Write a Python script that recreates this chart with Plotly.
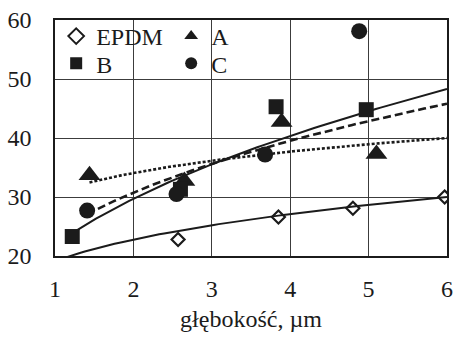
import numpy as np
import plotly.graph_objects as go

# ---- data ----
epdm_x = [2.57, 3.85, 4.80, 5.97]
epdm_y = [22.8, 26.6, 28.1, 30.0]
a_x = [1.44, 2.65, 3.89, 5.10]
a_y = [33.7, 32.7, 42.7, 37.3]
b_x = [1.22, 2.60, 3.82, 4.97]
b_y = [23.3, 31.3, 45.3, 44.8]
c_x = [1.41, 2.55, 3.68, 4.88]
c_y = [27.7, 30.5, 37.2, 58.1]

# power trend lines y = k * x^p  (coefficients), start x, end x
trend_epdm = (19.15, 0.2506, 1.0, 6.0)
trend_a = (30.79, 0.146, 1.44, 6.0)
trend_b = (21.85, 0.4427, 1.22, 6.0)
trend_c = (23.91, 0.3628, 1.41, 6.0)

x_ticks = [1, 2, 3, 4, 5, 6]
y_ticks = [20, 30, 40, 50, 60]
x_title = "głębokość, µm"

INK = "#1b1b1b"
FONT = "'Liberation Serif', 'Times New Roman', serif"

fig = go.Figure()


def trend(params, dash, width):
    k, p, x0, x1 = params
    xs = np.linspace(x0, x1, 80)
    fig.add_trace(go.Scatter(x=xs, y=k * xs ** p, mode="lines",
                             line=dict(color=INK, width=width, dash=dash),
                             showlegend=False, hoverinfo="skip"))


trend(trend_epdm, "solid", 2)
trend(trend_b, "solid", 2)
trend(trend_c, "8px,4px", 2.6)
trend(trend_a, "3px,2px", 2.6)

fig.add_trace(go.Scatter(x=epdm_x, y=epdm_y, mode="markers", name="EPDM",
                         marker=dict(symbol="diamond-open", size=10, color=INK,
                                     line=dict(width=2.2, color=INK)),
                         legend="legend"))
fig.add_trace(go.Scatter(x=a_x, y=a_y, mode="markers", name="A",
                         marker=dict(symbol="triangle-up", size=19, color=INK),
                         legend="legend"))
fig.add_trace(go.Scatter(x=b_x, y=b_y, mode="markers", name="B",
                         marker=dict(symbol="square", size=15, color=INK),
                         legend="legend2"))
fig.add_trace(go.Scatter(x=c_x, y=c_y, mode="markers", name="C",
                         marker=dict(symbol="circle", size=16, color=INK),
                         legend="legend2"))

legend_common = dict(orientation="h", xanchor="left", yanchor="middle",
                     bgcolor="rgba(0,0,0,0)", entrywidth=70,
                     font=dict(family=FONT, size=24, color=INK),
                     itemsizing="constant", tracegroupgap=0)

fig.update_layout(
    width=461, height=343,
    margin=dict(l=53, r=7.5, t=16, b=87),
    paper_bgcolor="white", plot_bgcolor="white",
    font=dict(family=FONT, size=24, color=INK),
    showlegend=True,
    legend=dict(x=0.003, y=0.93, **legend_common),
    legend2=dict(x=0.003, y=0.815, **legend_common),
    xaxis=dict(range=[1, 6], tickvals=x_ticks, showgrid=True,
               gridcolor="#3c3c3c", gridwidth=1, zeroline=False,
               showline=True, linecolor=INK, linewidth=1.5, mirror=True,
               ticks="", ticklabelstandoff=10,
               tickfont=dict(family=FONT, size=24, color=INK),
               title=dict(text=x_title, standoff=10,
                          font=dict(family=FONT, size=24, color=INK))),
    yaxis=dict(range=[20, 60], tickvals=y_ticks, showgrid=True,
               gridcolor="#3c3c3c", gridwidth=1, zeroline=False,
               showline=True, linecolor=INK, linewidth=1.5, mirror=True,
               ticks="", ticklabelstandoff=17,
               tickfont=dict(family=FONT, size=24, color=INK)),
)

fig.write_html("out.html")
